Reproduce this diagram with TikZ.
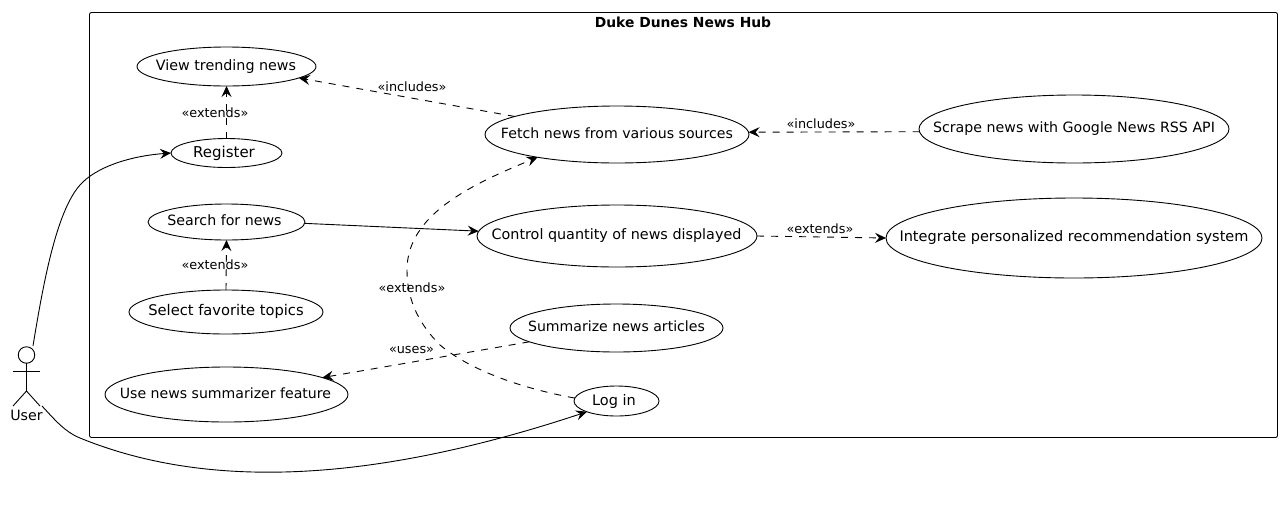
\documentclass[tikz,border=0pt]{standalone}
\usepackage{fontspec}
\setmainfont{DejaVu Sans}
\usetikzlibrary{shapes.geometric,arrows.meta}
\newcommand{\uct}[4]{\makebox[0pt][c]{\fontsize{#1}{16}\selectfont\hspace*{#2pt}\raisebox{#3pt}[0pt][0pt]{#4}\hspace*{-#2pt}}}
\tikzset{
  uc/.style={draw=black,ellipse,inner sep=0pt,outer sep=0pt,line width=.9pt},
  lbl/.style={inner sep=0pt,font=\fontsize{12.8}{15}\selectfont},
  solidarrow/.style={line width=.9pt,-{Stealth[length=11pt,width=10pt,inset=4pt]}},
  dasharrow/.style={solidarrow,dash pattern=on 7pt off 7pt},
  stick/.style={line width=.9pt}
}
\begin{document}
\begin{tikzpicture}[x=1pt,y=-1pt]
\useasboundingbox (0,0) rectangle (1282,520);
\node[draw=black,line width=.9pt,rounded corners=2pt,minimum width=1188pt,minimum height=425pt,inner sep=0pt,outer sep=0pt] (hub) at (683.5,225) {};
\node[font=\bfseries\fontsize{13.85}{16}\selectfont,inner sep=0pt] (title) at (683,22) {Duke Dunes News Hub};
\node[uc,minimum width=179pt,minimum height=39pt] (view) at (226.5,66.5) {\uct{14.3}{-0.5}{-3.5}{View trending news}};
\node[uc,minimum width=111pt,minimum height=29pt] (reg) at (226.5,153) {\uct{15}{-2.5}{-4.5}{Register}};
\node[uc,minimum width=157pt,minimum height=36pt] (search) at (226.5,222) {\uct{14.2}{-2}{-3.5}{Search for news}};
\node[uc,minimum width=194pt,minimum height=44pt] (select) at (226,312) {\uct{14.7}{0}{-3.5}{Select favorite topics}};
\node[uc,minimum width=243pt,minimum height=55pt] (use) at (226.5,394.5) {\uct{14.1}{-1}{-3.5}{Use news summarizer feature}};
\node[uc,minimum width=264pt,minimum height=57pt] (fetch) at (617,134.5) {\uct{14.15}{0}{-3.5}{Fetch news from various sources}};
\node[uc,minimum width=280pt,minimum height=62pt] (ctrl) at (617,236) {\uct{14.35}{-0.5}{-3.5}{Control quantity of news displayed}};
\node[uc,minimum width=213pt,minimum height=48pt] (summ) at (616.5,328) {\uct{14.1}{0}{-3.5}{Summarize news articles}};
\node[uc,minimum width=85pt,minimum height=30pt] (login) at (616.5,401) {\uct{14.5}{-2.5}{-4.5}{Log in}};
\node[uc,minimum width=310pt,minimum height=68pt] (scrape) at (1074,129) {\uct{14.2}{0}{-3.5}{Scrape news with Google News RSS API}};
\node[uc,minimum width=376pt,minimum height=80pt] (integ) at (1074,238) {\uct{14.5}{0}{-3.5}{Integrate personalized recommendation system}};
% actor
\node[draw=black,circle,line width=.9pt,minimum size=16.5pt,inner sep=0pt,outer sep=0pt] (head) at (26.5,355) {};
\coordinate (hip) at (26.5,391);
\coordinate (armL) at (13,371);
\coordinate (armR) at (40,371);
\coordinate (legL) at (13,406);
\coordinate (legR) at (40,406);
\coordinate (top) at (33,346);
\coordinate (foot) at (42,406);
\draw[stick] (head.south) -- (hip);
\draw[stick] (armL) -- (armR);
\draw[stick] (legL) -- (hip) -- (legR);
\node[inner sep=0pt,font=\fontsize{14.2}{16}\selectfont] (user) at (26.5,415) {User};
% connectors
\draw[solidarrow] (top) .. controls (43,285) and (56,212) .. (80,185) .. controls (96,167) and (130,156) .. (reg.west);
\draw[solidarrow] (foot) .. controls (55,420) and (65,432) .. (80,438) .. controls (200,487) and (360,487) .. (login.200);
\draw[solidarrow] (search.-1) -- (ctrl.178);
\draw[dasharrow] (reg.north) -- (view.south);
\draw[dasharrow] (select.north) -- (search.south);
\draw[dasharrow] (fetch.170) -- (view.-9);
\draw[dasharrow] (scrape.181) -- (fetch.1);
\draw[dasharrow] (ctrl.east) -- (integ.west);
\draw[dasharrow] (summ.189) -- (use.10);
\draw[dasharrow] (login.176) .. controls (520,388) and (470,370) .. (440,345) .. controls (415,320) and (407,295) .. (407,270) .. controls (407,215) and (470,185) .. (fetch.196);
% labels
\node[lbl] (l1) at (412,87) {«includes»};
\node[lbl] (l2) at (215,113) {«extends»};
\node[lbl] (l3) at (821,124) {«includes»};
\node[lbl] (l4) at (820,229) {«extends»};
\node[lbl] (l5) at (215,265) {«extends»};
\node[lbl] (l6) at (412,288) {«extends»};
\node[lbl] (l7) at (411.5,349.5) {«uses»};
\end{tikzpicture}
\end{document}
